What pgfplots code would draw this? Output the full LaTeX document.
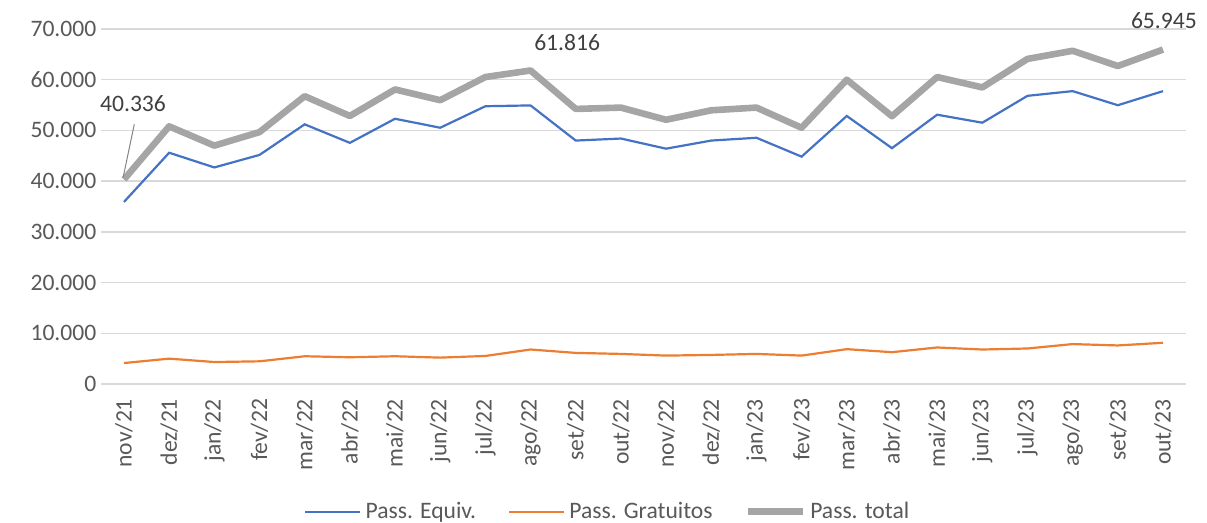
\documentclass[border=0pt]{standalone}
\usepackage{pgfplots}
\pgfplotsset{compat=1.18}
\usepackage{pgfplotstable}
\usepackage{fontspec}
\setmainfont{Carlito}
\definecolor{cblue}{HTML}{4472C4}
\definecolor{corange}{HTML}{ED7D31}
\definecolor{cgray}{HTML}{A5A5A5}
\definecolor{cgrid}{HTML}{D9D9D9}
\definecolor{tc}{HTML}{595959}
\definecolor{lc}{HTML}{404040}
\newcommand\cf{\fontsize{11.8pt}{14pt}\selectfont}
\pgfplotstableread{
x equiv grat total
0 35900 4130 40336
1 45600 5000 50800
2 42700 4330 47000
3 45170 4470 49670
4 51200 5470 56750
5 47550 5270 52850
6 52300 5470 58080
7 50530 5200 55960
8 54770 5530 60530
9 54930 6800 61816
10 48000 6130 54240
11 48400 5930 54500
12 46400 5600 52100
13 48000 5730 53970
14 48550 5930 54500
15 44830 5600 50530
16 52850 6870 60000
17 46500 6270 52800
18 53100 7200 60530
19 51520 6800 58480
20 56820 7000 64100
21 57750 7870 65700
22 54970 7600 62700
23 57750 8130 65945
}\datatable
\begin{document}
\begin{tikzpicture}
\begin{axis}[
  scale only axis,
  width=542.1pt, height=177.5pt,
  xmin=-0.5, xmax=23.5,
  ymin=0, ymax=70000,
  clip=false,
  xtick=data,
  xticklabels={nov/21,dez/21,jan/22,fev/22,mar/22,abr/22,mai/22,jun/22,jul/22,ago/22,set/22,out/22,nov/22,dez/22,jan/23,fev/23,mar/23,abr/23,mai/23,jun/23,jul/23,ago/23,set/23,out/23},
  ytick={0,10000,...,70000},
  scaled y ticks=false,
  /pgf/number format/.cd, 1000 sep={.}, assume math mode=true,
  /pgfplots/.cd,
  ymajorgrids,
  grid style={cgrid, line width=0.75pt},
  axis line style={draw=none},
  major tick length=0pt,
  tick label style={font=\cf, text=tc},
  xticklabel style={yshift=-4pt, rotate=90, anchor=east},
  yticklabel style={anchor=east, xshift=1pt},
  legend style={draw=none, fill=none, font=\cf, text=tc,
    at={(0.468,-0.36)}, anchor=center, legend columns=3,
    /tikz/every even column/.append style={column sep=14pt}},
  legend image code/.code={\draw[#1] (0pt,0pt) -- (27.5pt,0pt);},
]
\addplot[cblue, line width=1.1pt] table[x=x, y=equiv] {\datatable};
\addlegendentry{Pass. Equiv.}
\addplot[corange, line width=1.1pt] table[x=x, y=grat] {\datatable};
\addlegendentry{Pass. Gratuitos}
\addplot[cgray, line width=3.3pt, line join=round] table[x=x, y=total] {\datatable};
\addlegendentry{Pass. total}
\draw[cgray!80!black, line width=0.5pt] (axis cs:0.228,51206) -- (axis cs:-0.015,40876);
\node[font=\cf, text=lc] at (axis cs:0.2,55211) {40.336};
\node[font=\cf, text=lc] at (axis cs:9.81,67239) {61.816};
\node[font=\cf, text=lc] at (axis cs:23.02,71577) {65.945};
\end{axis}
\pgfresetboundingbox
\path (-50.7pt,-69.5pt) rectangle (552.8pt,192pt);
\end{tikzpicture}
\end{document}
